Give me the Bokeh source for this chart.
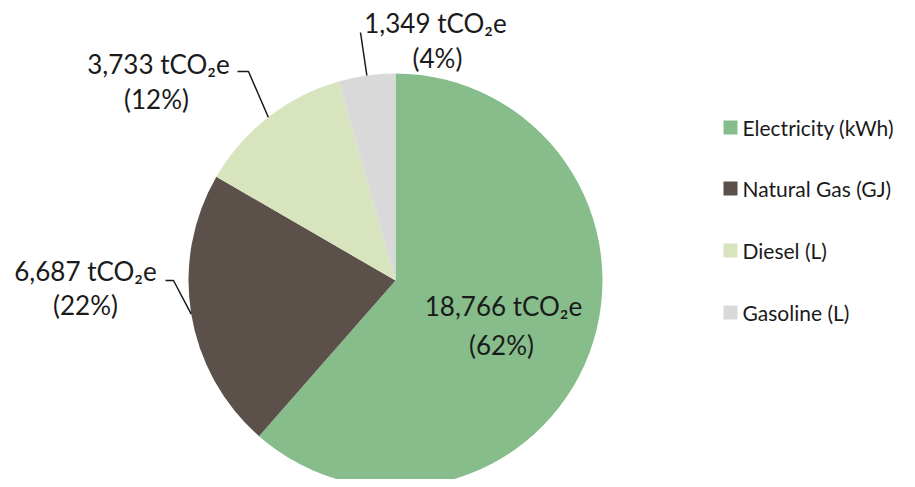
import numpy as np
from bokeh.plotting import figure
from bokeh.models import Range1d, ColumnDataSource
from bokeh.core.properties import value
from bokeh.embed import file_html
from bokeh.resources import INLINE

categories = ["Electricity (kWh)", "Natural Gas (GJ)", "Diesel (L)", "Gasoline (L)"]
emissions = [18766, 6687, 3733, 1349]
percent_labels = [62, 22, 12, 4]
colors = ["#86BD8A", "#5C504B", "#D8E4BE", "#D9D9D9"]

FONT = "Lato"
W, H = 899, 479
p = figure(width=W, height=H, output_backend="svg", toolbar_location=None,
           x_range=Range1d(0, W), y_range=Range1d(487 - H, 487),
           min_border=0, outline_line_color=None)
p.axis.visible = False
p.grid.visible = False

cx, cy, r = 395, 487 - 280, 207
vals = np.array(emissions, dtype=float)
frac = vals / vals.sum()
ends = np.pi / 2 - 2 * np.pi * np.cumsum(frac)
starts = np.concatenate([[np.pi / 2], ends[:-1]])
mids = (starts + ends) / 2

src = ColumnDataSource(dict(start=starts, end=ends, color=colors, cat=categories))
p.wedge(x=cx, y=cy, radius=r, start_angle="start", end_angle="end",
        direction="clock", fill_color="color", line_color=None, source=src)

# labels (layout positions in screen pixels: x, y-from-top)
line1 = [f"{v:,} tCO\u2082e" for v in emissions]
line2 = [f"({q}%)" for q in percent_labels]
pos1 = [(503, 305), (85, 270), (158, 63), (435, 22)]
pos2 = [(501, 344), (85, 304), (156, 98), (437, 57)]
p.text(x=[a for a, b in pos1], y=[487 - b for a, b in pos1], text=line1,
       text_font=value(FONT), text_font_size="26px", text_color="#1a1a1a",
       text_align="center", text_baseline="middle")
p.text(x=[a for a, b in pos2], y=[487 - b for a, b in pos2], text=line2,
       text_font=value(FONT), text_font_size="26px", text_color="#1a1a1a",
       text_align="center", text_baseline="middle")

# leader lines for outside labels (from arc at slice mid-angle to label)
elbows = {1: [(173, 280), (165, 280)], 2: [(248, 71), (237, 71)], 3: [(360, 32)]}
xs, ys = [], []
for i, pts in elbows.items():
    sx = cx + r * np.cos(mids[i])
    sy = cy + r * np.sin(mids[i])
    xs.append([sx] + [a for a, b in pts])
    ys.append([sy] + [487 - b for a, b in pts])
p.multi_line(xs=xs, ys=ys, line_color="#1a1a1a", line_width=1.5)

# legend
leg_y = [127, 188, 250, 312]
p.rect(x=[730] * 4, y=[487 - v for v in leg_y], width=14, height=14,
       fill_color=colors, line_color=None)
p.text(x=[742] * 4, y=[487 - v for v in leg_y], text=categories,
       text_font=value(FONT), text_font_size="21px", text_color="#1a1a1a",
       text_align="left", text_baseline="middle")

open("out.html", "w").write(file_html(p, INLINE))
